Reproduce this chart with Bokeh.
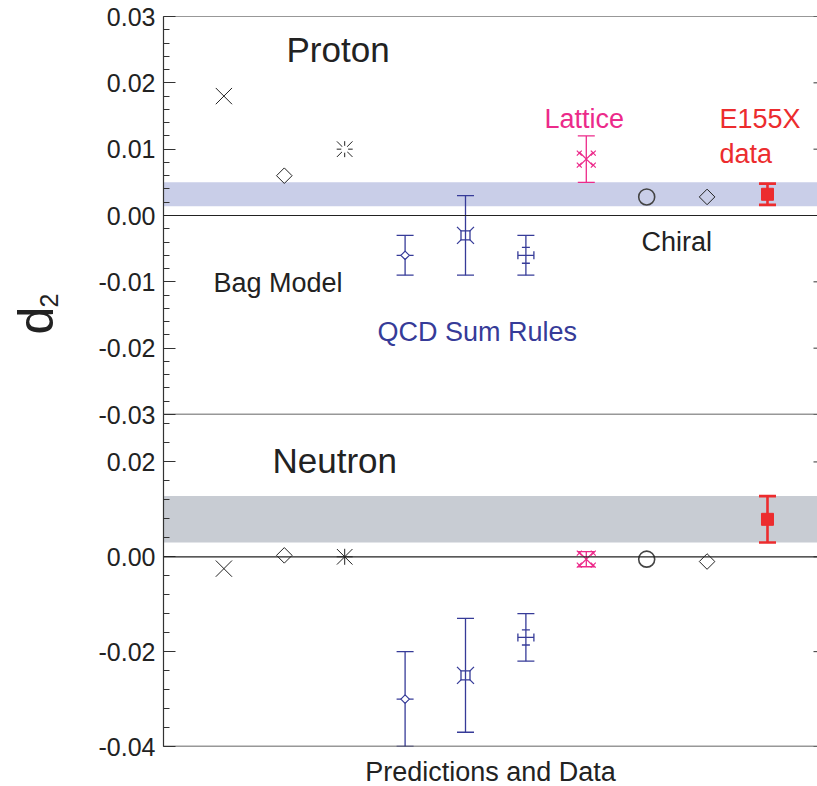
import numpy as np
from bokeh.plotting import figure
from bokeh.models import (Range1d, LinearAxis, FixedTicker, PrintfTickFormatter,
                          Span, BoxAnnotation, Label)
from bokeh.core.properties import value
from bokeh.layouts import column, row
from bokeh.embed import file_html
from bokeh.resources import INLINE

# ---------------- data ----------------
models = ["Bag 1", "Bag 2", "Bag 3", "QCD SR 1", "QCD SR 2", "QCD SR 3",
          "Lattice", "Chiral 1", "Chiral 2", "E155X"]
x_pos = [1, 2, 3, 4, 5, 6, 7, 8, 9, 10]

proton_d2 = [0.018, 0.006, 0.010, -0.006, -0.003, -0.006, 0.0085, 0.0028, 0.0028, 0.0032]
proton_err = [0, 0, 0, 0.003, 0.006, 0.003, 0.0035, 0, 0, 0.0016]
proton_inner_err = 0.0012
proton_band = [0.0014, 0.0050]

neutron_d2 = [-0.0025, 0.0003, 0.0, -0.030, -0.025, -0.017, -0.0005, -0.0005, -0.001, 0.0079]
neutron_err = [0, 0, 0, 0.010, 0.012, 0.005, 0.0016, 0, 0, 0.0049]
neutron_inner_err = 0.0016
neutron_band = [0.0030, 0.0128]

proton_ticks = [-0.03, -0.02, -0.01, 0.0, 0.01, 0.02, 0.03]
neutron_ticks = [-0.04, -0.02, 0.0, 0.02]

# ---------------- style ----------------
FONT = "Liberation Sans"
BLACK = "#222222"
AXIS = "#333333"
BLUE = "#363b98"
PINK = "#ec2a8a"
RED = "#ec2c2e"
BAND_P = "#c9cee8"
BAND_N = "#c8ccd3"

LEFT_W = 72
FW = 654
X_END = 10.828
xr = Range1d(0, X_END)
dx_px = X_END / FW
OVERLAP = 16


def make_fig(ylo, yhi, fh, top, bottom):
    p = figure(frame_width=FW, frame_height=fh, x_range=xr, y_range=Range1d(ylo, yhi),
               output_backend="svg", toolbar_location=None,
               x_axis_type=None, y_axis_type=None,
               min_border_left=163 - LEFT_W, min_border_right=0,
               min_border_top=top, min_border_bottom=bottom)
    p.grid.visible = False
    p.outline_line_color = None
    p.background_fill_color = None
    p.border_fill_color = None
    return p


def add_axes(p, ticks, minor):
    ax = LinearAxis(ticker=FixedTicker(ticks=ticks, minor_ticks=minor),
                    formatter=PrintfTickFormatter(format="%.2f"))
    ax.axis_line_color = AXIS
    ax.axis_line_width = 1.2
    ax.major_tick_in = 12
    ax.major_tick_out = 0
    ax.minor_tick_in = 6
    ax.minor_tick_out = 0
    ax.major_tick_line_color = AXIS
    ax.minor_tick_line_color = AXIS
    ax.major_label_text_font = FONT
    ax.major_label_text_font_size = "25px"
    ax.major_label_text_color = BLACK
    ax.major_label_standoff = 8
    p.add_layout(ax, "left")
    # short inward ticks on the right edge
    p.scatter([X_END] * len(ticks), ticks, marker="dash", size=8,
              line_color=AXIS, line_width=1)


def errbar(p, x, v, e, color, lw, cap):
    p.segment(x0=[x], y0=[v - e], x1=[x], y1=[v + e], line_color=color, line_width=lw)
    p.scatter([x, x], [v - e, v + e], marker="dash", size=cap, line_color=color, line_width=lw)


def draw_panel(p, vals, errs, inner, dy_px, white_dot):
    x = x_pos
    # Bag model
    p.scatter([x[0]], [vals[0]], marker="x", size=23, line_color=BLACK, line_width=1)
    p.scatter([x[1]], [vals[1]], marker="square", angle=np.pi / 4, size=11,
              fill_color=None, line_color=BLACK, line_width=1)
    p.scatter([x[2]], [vals[2]], marker="x", size=22, line_color=BLACK, line_width=1)
    p.scatter([x[2]], [vals[2]], marker="cross", size=16, line_color=BLACK, line_width=1)
    if white_dot:
        p.scatter([x[2]], [vals[2]], marker="circle", size=7, fill_color="white", line_color=None)
    # QCD sum rules
    errbar(p, x[3], vals[3], errs[3], BLUE, 1.3, 17)
    p.scatter([x[3]], [vals[3]], marker="dash", size=17, line_color=BLUE, line_width=1.3)
    p.scatter([x[3]], [vals[3]], marker="square", angle=np.pi / 4, size=6,
              fill_color="white", line_color=BLUE, line_width=1.2)
    errbar(p, x[4], vals[4], errs[4], BLUE, 1.3, 17)
    p.scatter([x[4]], [vals[4]], marker="x", size=24, line_color=BLUE, line_width=1.3)
    p.scatter([x[4]], [vals[4]], marker="square", size=9, fill_color="white",
              line_color=BLUE, line_width=1.3)
    p.segment(x0=[x[4]], y0=[vals[4] - 4.5 * dy_px], x1=[x[4]], y1=[vals[4] + 4.5 * dy_px],
              line_color=BLUE, line_width=1.3)
    errbar(p, x[5], vals[5], errs[5], BLUE, 1.3, 17)
    p.scatter([x[5], x[5]], [vals[5] - inner, vals[5] + inner], marker="dash", size=8,
              line_color=BLUE, line_width=1.3)
    hx = 8 * dx_px
    p.segment(x0=[x[5] - hx], y0=[vals[5]], x1=[x[5] + hx], y1=[vals[5]],
              line_color=BLUE, line_width=1.3)
    p.scatter([x[5] - hx, x[5] + hx], [vals[5], vals[5]], marker="dash", angle=np.pi / 2,
              size=8, line_color=BLUE, line_width=1.3)
    # Lattice
    errbar(p, x[6], vals[6], errs[6], PINK, 1.3, 17)
    p.scatter([x[6]], [vals[6]], marker="x", size=20, line_color=PINK, line_width=1.2)
    cx = 7 * dx_px
    cy = 6 * dy_px
    p.scatter([x[6] - cx, x[6] + cx, x[6] - cx, x[6] + cx],
              [vals[6] - cy, vals[6] - cy, vals[6] + cy, vals[6] + cy],
              marker="x", size=7, line_color=PINK, line_width=1.2)
    # Chiral
    p.scatter([x[7]], [vals[7]], marker="circle", size=16, fill_color=None,
              line_color="#444444", line_width=1.6)
    p.scatter([x[8]], [vals[8]], marker="square", angle=np.pi / 4, size=11,
              fill_color=None, line_color=BLACK, line_width=1)
    # E155X data
    errbar(p, x[9], vals[9], errs[9], RED, 2.6, 17)
    p.scatter([x[9]], [vals[9]], marker="square", size=12, fill_color=RED, line_color=RED)


def lbl(p, x, y, text, size, color):
    p.add_layout(Label(x=x, y=y, x_units="screen", y_units="screen", text=text,
                       text_font=FONT, text_font_size=size, text_color=color,
                       text_align="left", text_baseline="alphabetic"))


# ---------------- proton panel ----------------
FH1 = 398
p1 = make_fig(-0.03, 0.03, FH1, 16, OVERLAP)
p1.add_layout(BoxAnnotation(bottom=proton_band[0], top=proton_band[1], fill_color=BAND_P,
                            fill_alpha=1, line_color=None, level="underlay"))
p1.add_layout(Span(location=0.0, dimension="width", line_color=BLACK, line_width=1.2))
p1.add_layout(Span(location=0.03, dimension="width", line_color=AXIS, line_width=1.2))
p1.add_layout(Span(location=-0.03, dimension="width", line_color=AXIS, line_width=1.5))
add_axes(p1, proton_ticks, list(np.round(np.arange(-0.03, 0.0301, 0.002), 4)))
draw_panel(p1, proton_d2, proton_err, proton_inner_err, 0.06 / FH1, True)

lbl(p1, 123, 365, "Proton", "35px", BLACK)
lbl(p1, 50, 132, "Bag Model", "27px", BLACK)
lbl(p1, 214, 83, "QCD Sum Rules", "27px", BLUE)
lbl(p1, 381, 296, "Lattice", "27px", PINK)
lbl(p1, 556, 296, "E155X", "27px", RED)
lbl(p1, 556, 261, "data", "27px", RED)
lbl(p1, 478, 173, "Chiral", "27px", BLACK)

# ---------------- neutron panel ----------------
FH2 = 332
p2 = make_fig(-0.04, 0.03, FH2, 0, 40)
p2.margin = (-OVERLAP, 0, -8, 0)
p2.add_layout(BoxAnnotation(bottom=neutron_band[0], top=neutron_band[1], fill_color=BAND_N,
                            fill_alpha=1, line_color=None, level="underlay"))
p2.add_layout(Span(location=0.0, dimension="width", line_color=BLACK, line_width=1.2))
p2.add_layout(Span(location=-0.04, dimension="width", line_color=AXIS, line_width=1.5))
add_axes(p2, neutron_ticks, list(np.round(np.arange(-0.04, 0.0301, 0.004), 4)))
draw_panel(p2, neutron_d2, neutron_err, neutron_inner_err, 0.07 / FH2, False)
lbl(p2, 109, 286, "Neutron", "35px", BLACK)

xa = LinearAxis(ticker=FixedTicker(ticks=[]))
xa.axis_line_color = None
xa.major_tick_out = 0
xa.major_tick_in = 0
xa.minor_tick_out = 0
xa.minor_tick_in = 0
xa.major_label_standoff = 0
xa.axis_label = "Predictions and Data"
xa.axis_label_text_font = FONT
xa.axis_label_text_font_size = "27px"
xa.axis_label_text_font_style = "normal"
xa.axis_label_text_color = BLACK
xa.axis_label_standoff = 10
p2.add_layout(xa, "below")

# ---------------- y label column ----------------
p0 = figure(width=LEFT_W, height=770, x_range=Range1d(0, LEFT_W), y_range=Range1d(770, 0),
            output_backend="svg", toolbar_location=None, x_axis_type=None, y_axis_type=None,
            min_border=0)
p0.grid.visible = False
p0.outline_line_color = None
p0.background_fill_color = None
p0.border_fill_color = None
p0.text(x=[35], y=[320], text=["d"], angle=np.pi / 2, text_font=value(FONT),
        text_font_size="50px", text_color=BLACK, text_align="center", text_baseline="middle")
p0.text(x=[48], y=[300], text=["2"], angle=np.pi / 2, text_font=value(FONT),
        text_font_size="25px", text_color=BLACK, text_align="center", text_baseline="middle")

layout = row(p0, column(p1, p2, spacing=0), spacing=0)
open("out.html", "w").write(file_html(layout, INLINE))
